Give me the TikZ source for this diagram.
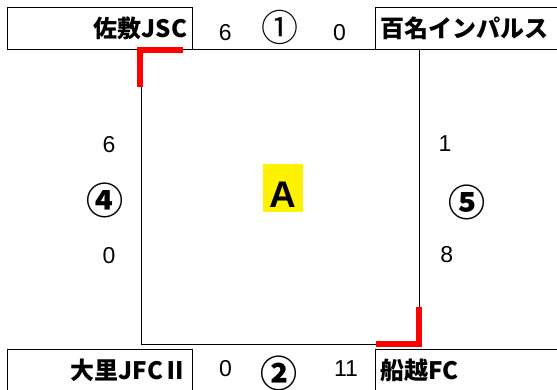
\documentclass[tikz,border=0pt]{standalone}
\usepackage{fontspec}
\setmainfont{Liberation Sans}
\newfontfamily\jp{Noto Sans CJK JP}
\newfontfamily\numf{Liberation Sans}
\usetikzlibrary{positioning}

\tikzset{
	team/.style={draw, line width=0.9pt, anchor=north west, minimum height=41.7pt, inner xsep=5pt, inner ysep=0pt, font=\jp\bfseries\fontsize{24}{24}\selectfont},
	score/.style={inner sep=0pt, font=\numf\fontsize{23}{23}\selectfont},
	match/.style={inner sep=0pt, font=\jp\fontsize{37}{37}\selectfont},
	boldmatch/.style={match, font=\jp\bfseries\fontsize{37}{37}\selectfont},
	win/.style={draw=red, line width=6pt}
}

\begin{document}
\begin{tikzpicture}[x=1pt, y=-1pt]
	\useasboundingbox (0,0) rectangle (557,390);
	\draw [line width=0.9pt] (141,49.3) rectangle (419,344.3);
	\node [team, text width=175pt, align=right] (saj) at (6.7,7.3) {佐敷JSC};
	\node [team, text width=250pt, align=left] (hyk) at (375,7.3) {百名インパルス};
	\node [team, text width=175pt, align=right] (osz) at (6.7,349.3) {大里JFCⅡ};
	\node [team, text width=250pt, align=left] (fnk) at (375.3,349.3) {船越FC};
	\draw [win] (140.3,86.7) -- (140.3,49.7) -- (183.3,49.7);
	\draw [win] (376,344.3) -- (419,344.3) -- (419,307.3);
	\node [fill=yellow, inner sep=0pt, minimum width=39.4pt, minimum height=47.7pt, text height=40pt, text depth=0pt, font=\numf\bfseries\fontsize{37}{37}\selectfont] (grpa) at (283,188) {A};
	% match 1
	\node [score] (m1a) at (225.3,32.5) {6};
	\node [match] (m1) at (280,27.5) {①};
	\node [score] (m1b) at (339.5,32.5) {0};
	% match 2
	\node [score] (m2a) at (225.5,369) {0};
	\node [boldmatch] (m2) at (279,373) {②};
	\node [score] (m2b) at (346,369) {11};
	% match 4
	\node [score] (m4a) at (109,144.5) {6};
	\node [boldmatch] (m4) at (105.3,200) {④};
	\node [score] (m4b) at (109,256) {0};
	% match 5
	\node [score] (m5a) at (445,144) {1};
	\node [boldmatch] (m5) at (467,202.5) {⑤};
	\node [score] (m5b) at (446.7,255) {8};
\end{tikzpicture}
\end{document}
